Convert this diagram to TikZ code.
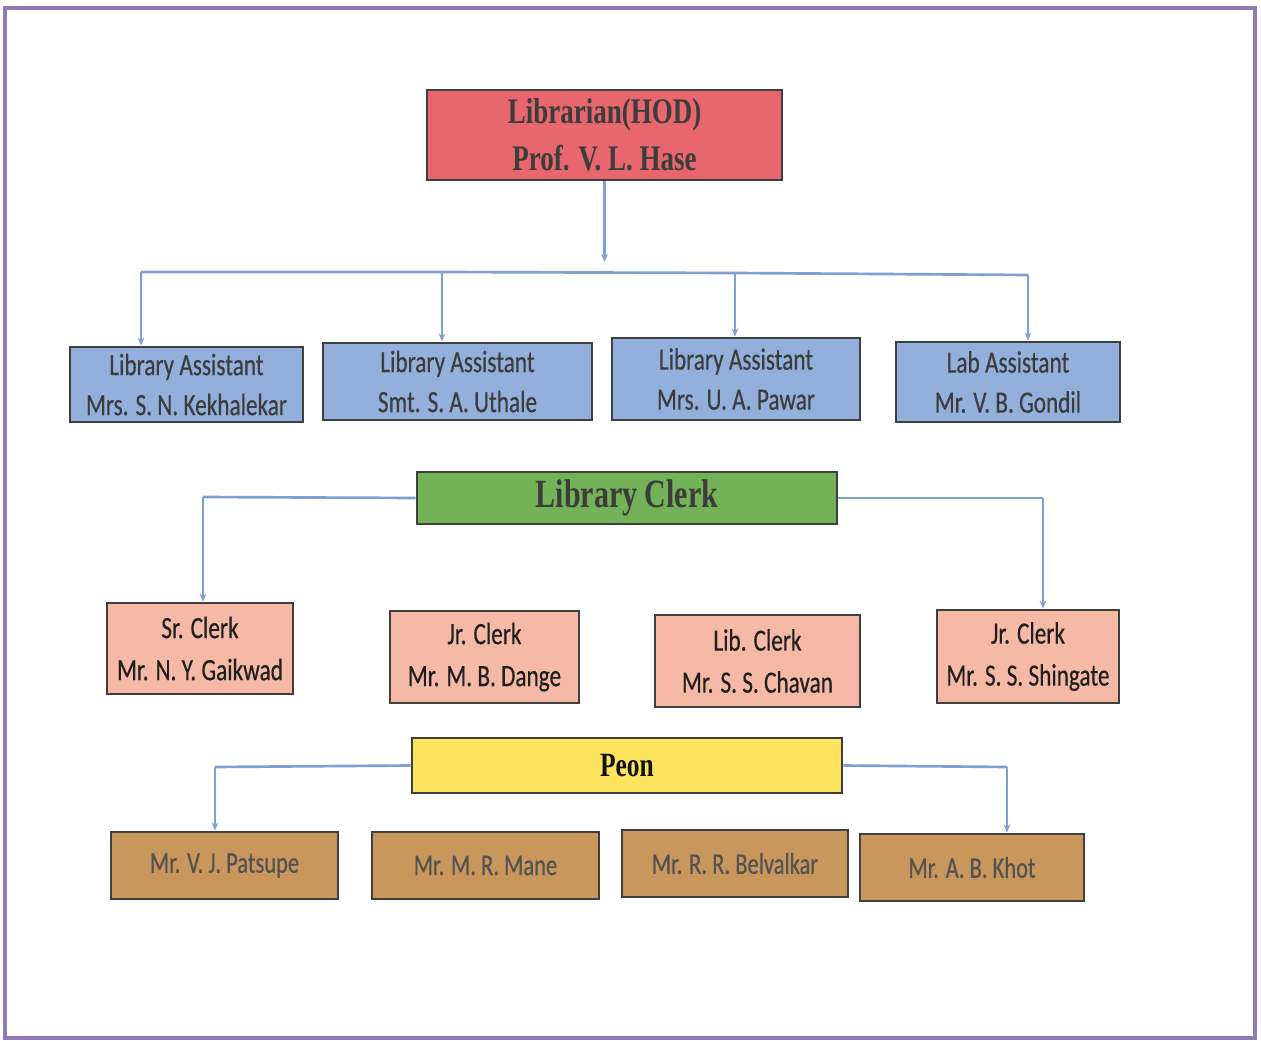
\documentclass[tikz,border=0pt]{standalone}
\usepackage{fontspec}
\setmainfont{Liberation Serif}
\newfontfamily\serifc{Liberation Serif}[FakeStretch=0.75]
\newfontfamily\sansc{Carlito}[FakeStretch=0.75,FakeBold=0.4]
\usetikzlibrary{arrows.meta}
\definecolor{frame}{HTML}{8F7BB5}
\definecolor{conn}{HTML}{7EA0D4}
\definecolor{edge}{HTML}{3F3F3F}
\definecolor{hodfill}{HTML}{E8666E}
\definecolor{lafill}{HTML}{93AFDC}
\definecolor{clerkfill}{HTML}{74B257}
\definecolor{pinkfill}{HTML}{F5B9A5}
\definecolor{peonfill}{HTML}{FDE35E}
\definecolor{brownfill}{HTML}{C9965C}
\definecolor{txtdark}{HTML}{3C3C3C}
\tikzset{
  cbox/.style 2 args={draw=edge, line width=2.2pt, minimum width=#1*0.75pt, minimum height=#2*0.75pt, inner sep=0pt, align=center},
  hodbox/.style={fill=hodfill, text=txtdark, font=\serifc\bfseries\fontsize{27}{35}\selectfont},
  labox/.style={fill=lafill, text=txtdark, font=\sansc\fontsize{23.25}{30}\selectfont},
  clerkbox/.style={fill=clerkfill, text=txtdark, font=\serifc\bfseries\fontsize{30}{36}\selectfont},
  pinkbox/.style={fill=pinkfill, text=black!88, font=\sansc\fontsize{23.25}{31.5}\selectfont},
  peonbox/.style={fill=peonfill, text=black!92, font=\serifc\bfseries\fontsize{25.5}{30}\selectfont},
  brownbox/.style={fill=brownfill, text=black!68, font=\sansc\fontsize{22.5}{28}\selectfont},
  link/.style={draw=conn, line width=2pt},
  arr/.style={link, -{Stealth[length=6pt,width=5pt]}}
}
\begin{document}
\begin{tikzpicture}[x=0.75pt,y=-0.75pt]
\useasboundingbox (0,0) rectangle (1261,1041);
\fill[white] (0,0) rectangle (1261,1041);
\draw[frame, line width=3pt] (5,8) rectangle (1255,1038);

% top
\node[cbox={355}{90}, hodbox] (hod) at (604.5,135) {Librarian(HOD)\\Prof. V. L. Hase};

% assistants
\node[cbox={233}{75}, labox] (la1) at (186.5,384.5) {Library Assistant\\Mrs. S. N. Kekhalekar};
\node[cbox={269}{77}, labox] (la2) at (457.5,381.5) {Library Assistant\\Smt. S. A. Uthale};
\node[cbox={248}{82}, labox] (la3) at (736,379) {Library Assistant\\Mrs. U. A. Pawar};
\node[cbox={224}{80}, labox] (lab) at (1008,382) {Lab Assistant\\Mr. V. B. Gondil};

% clerk
\node[cbox={420}{52}, clerkbox] (clerk) at (627,498) {Library Clerk};
\node[cbox={186}{91}, pinkbox] (sr) at (200,648.5) {Sr. Clerk\\Mr. N. Y. Gaikwad};
\node[cbox={189}{92}, pinkbox] (jr1) at (484.5,657) {Jr. Clerk\\Mr. M. B. Dange};
\node[cbox={205}{92}, pinkbox] (lib) at (757.5,661) {Lib. Clerk\\Mr. S. S. Chavan};
\node[cbox={182}{93}, pinkbox] (jr2) at (1028,656.5) {Jr. Clerk\\Mr. S. S. Shingate};

% peon
\node[cbox={430}{55}, peonbox] (peon) at (627,765.5) {Peon};
\node[cbox={227}{67}, brownbox] (p1) at (224.5,865.5) {Mr. V. J. Patsupe};
\node[cbox={227}{67}, brownbox] (p2) at (485.5,865.5) {Mr. M. R. Mane};
\node[cbox={226}{67}, brownbox] (p3) at (735,863.5) {Mr. R. R. Belvalkar};
\node[cbox={224}{67}, brownbox] (p4) at (972,867.5) {Mr. A. B. Khot};

% connectors top
\coordinate (hodend) at (604.5,262);
\draw[arr] (hod.south) -- (hodend);
\coordinate (b1) at (141,272);
\coordinate (b2) at (442,272);
\coordinate (b3) at (735,273);
\coordinate (b4) at (1028,275);
\draw[link] (b1) -- (b2) -- (b3) -- (b4);
\draw[arr] (b1) -- (b1 |- la1.north);
\draw[arr] (b2) -- (b2 |- la2.north);
\draw[arr] (b3) -- (b3 |- la3.north);
\draw[arr] (b4) -- (b4 |- lab.north);

% connectors clerk
\coordinate (cL) at (203,497);
\coordinate (cR) at (1043,498);
\draw[link] (clerk.west) -- (cL);
\draw[arr] (cL) -- (cL |- sr.north);
\draw[link] (clerk.east) -- (cR);
\draw[arr] (cR) -- (cR |- jr2.north);

% connectors peon
\coordinate (pL) at (215,767);
\coordinate (pR) at (1007,767);
\draw[link] (peon.west) -- (pL);
\draw[arr] (pL) -- (pL |- p1.north);
\draw[link] (peon.east) -- (pR);
\draw[arr] (pR) -- (pR |- p4.north);
\end{tikzpicture}
\end{document}
